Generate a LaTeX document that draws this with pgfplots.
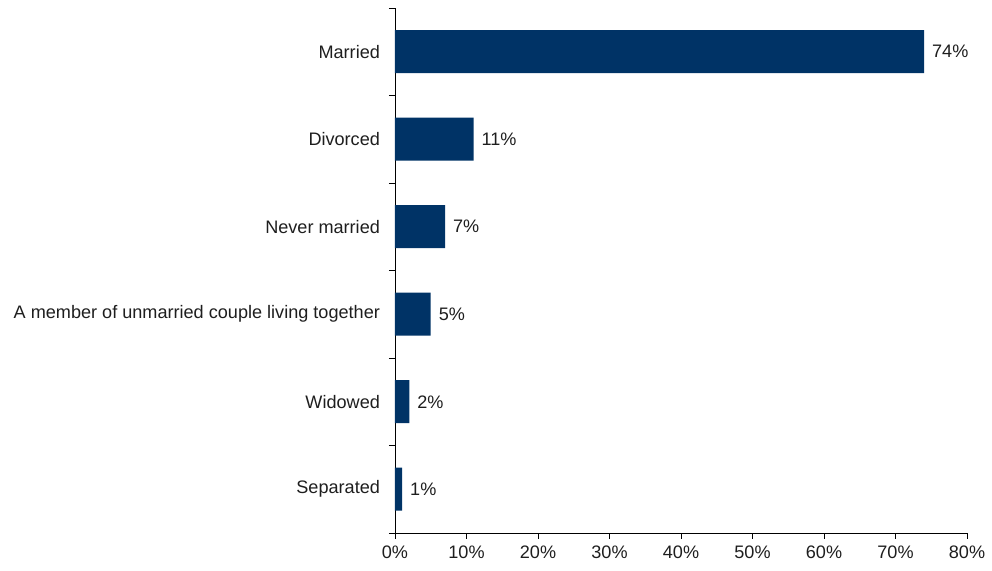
\documentclass[border=0pt]{standalone}
\usepackage{pgfplots}
\pgfplotsset{compat=1.18}
\usepackage{fontspec}
\setmainfont{Liberation Sans}
\definecolor{barblue}{RGB}{0,51,102}
\definecolor{txt}{RGB}{30,30,30}
\begin{document}
\begin{tikzpicture}
\begin{axis}[
    scale only axis,
    width=286pt, height=262.5pt,
    xbar,
    bar width=21.5pt,
    xmin=0, xmax=80,
    ymin=-0.5, ymax=5.5,
    xtick={0,10,...,80},
    xticklabels={0\%,10\%,20\%,30\%,40\%,50\%,60\%,70\%,80\%},
    ytick={0,...,5},
    yticklabels={Separated,Widowed,A member of unmarried couple living together,Never married,Divorced,Married},
    minor ytick={-0.5,0.5,...,5.5},
    major y tick style={draw=none},
    tick align=outside,
    major tick length=3pt,
    minor tick length=3pt,
    x tick style={black},
    minor y tick style={black},
    axis x line*=bottom,
    axis y line*=left,
    axis line style={black, -},
    ticklabel style={font=\fontsize{9.05}{11}\selectfont, text=txt},
    yticklabel style={xshift=-1pt},
    nodes near coords={\pgfmathprintnumber{\pgfplotspointmeta}\%},
    nodes near coords style={font=\fontsize{9.05}{11}\selectfont, text=txt, anchor=west, xshift=0.5pt},
    /pgf/number format/assume math mode=true,
]
\addplot[fill=barblue, draw=none] coordinates {
    (1,0) (2,1) (5,2) (7,3) (11,4) (74,5)
};
\end{axis}
\pgfresetboundingbox
\path ([shift={(-197.5pt,-19pt)}]current axis.south west) rectangle ([shift={(12.5pt,4pt)}]current axis.north east);
\end{tikzpicture}
\end{document}
